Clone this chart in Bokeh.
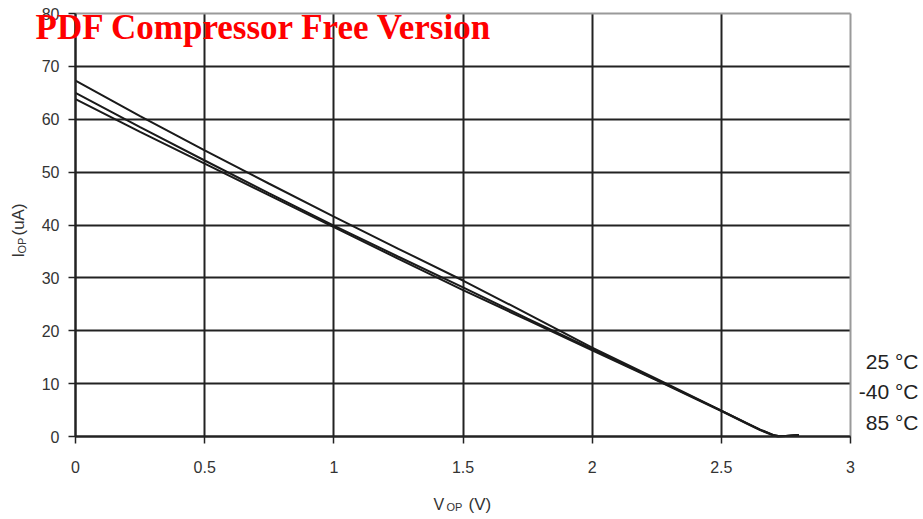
import math
from bokeh.plotting import figure
from bokeh.models import Label, FixedTicker, Range1d, Grid
from bokeh.embed import file_html
from bokeh.resources import INLINE

# ---- data ----
v_op = [0.0, 0.25, 0.5, 0.75, 1.0, 1.25, 1.5, 1.75, 2.0, 2.25, 2.4, 2.5, 2.6, 2.65, 2.7, 2.72, 2.75, 2.8]
i_top = [67.3, 60.6, 54.1, 47.8, 41.6, 35.5, 29.5, 23.2, 16.8, 10.9, 7.3, 4.9, 2.5, 1.3, 0.3, 0.1, 0.1, 0.3]
i_mid = [65.0, 58.5, 52.2, 46.0, 39.9, 34.0, 28.2, 22.3, 16.5, 10.7, 7.2, 4.9, 2.5, 1.3, 0.3, 0.1, 0.1, 0.3]
i_bot = [63.8, 57.6, 51.6, 45.6, 39.6, 33.6, 27.7, 22.0, 16.3, 10.6, 7.1, 4.8, 2.4, 1.2, 0.2, 0.0, 0.1, 0.3]
series = [i_top, i_mid, i_bot]

temp_labels = ["25 \u00b0C", "-40 \u00b0C", "85 \u00b0C"]

x_ticks = [0, 0.5, 1, 1.5, 2, 2.5, 3]
y_ticks = [0, 10, 20, 30, 40, 50, 60, 70, 80]
X_MIN, X_MAX = 0, 3
Y_MIN, Y_MAX = 0, 80

# ---- layout (pixel geometry of the chart area) ----
W, H = 920, 515
FL, FR, FT, FB = 75, 850, 13, 436          # plot-area edges in pixels
XS = (FR - FL) / (X_MAX - X_MIN)          # px per data unit
YS = (FB - FT) / (Y_MAX - Y_MIN)


def dx(px):
    return X_MIN + (px - FL) / XS


def dy(py):
    return Y_MIN + (FB - py) / YS


FONT = "Liberation Sans"
DARK = "#222222"
TXT = "#333333"

p = figure(width=W, height=H, output_backend="svg", toolbar_location=None,
           x_range=Range1d(dx(0), dx(W)), y_range=Range1d(dy(H), dy(0)),
           min_border=0, min_border_left=0, min_border_right=0,
           min_border_top=0, min_border_bottom=0)
p.background_fill_color = "white"
p.border_fill_color = "white"
p.outline_line_color = None

# grids restricted to the chart area
p.xgrid.ticker = FixedTicker(ticks=[t for t in x_ticks if t < X_MAX])
p.ygrid.ticker = FixedTicker(ticks=[t for t in y_ticks if t < Y_MAX])
p.xgrid.cross_bounds = (Y_MIN, Y_MAX)
p.ygrid.cross_bounds = (X_MIN, X_MAX)
for g in (p.xgrid[0], p.ygrid[0]):
    g.grid_line_color = DARK
    g.grid_line_width = 2
# grey frame on the top and right edges
p.add_layout(Grid(dimension=0, ticker=FixedTicker(ticks=[X_MAX]), cross_bounds=(Y_MIN, Y_MAX),
                  grid_line_color="#9a9a9a", grid_line_width=2))
p.add_layout(Grid(dimension=1, ticker=FixedTicker(ticks=[Y_MAX]), cross_bounds=(X_MIN, X_MAX),
                  grid_line_color="#9a9a9a", grid_line_width=2))

for ys in series:
    p.line(v_op, ys, line_color="#1a1a1a", line_width=2)

# axes, pinned to the chart-area edges
p.xaxis.fixed_location = Y_MIN
p.yaxis.fixed_location = X_MIN
p.xaxis.bounds = (X_MIN, X_MAX)
p.yaxis.bounds = (Y_MIN, Y_MAX)
for ax in (p.xaxis[0], p.yaxis[0]):
    ax.axis_line_color = DARK
    ax.axis_line_width = 2
    ax.major_tick_line_color = DARK
    ax.major_tick_line_width = 1.5
    ax.major_tick_out = 7
    ax.major_tick_in = 0
    ax.minor_tick_line_color = None
    ax.major_label_text_font = FONT
    ax.major_label_text_font_size = "16px"
    ax.major_label_text_color = TXT
p.xaxis.ticker = FixedTicker(ticks=x_ticks)
p.yaxis.ticker = FixedTicker(ticks=y_ticks)
p.xaxis.major_label_standoff = 17
p.yaxis.major_label_standoff = 9

# right-side temperature labels
for t, py in zip(temp_labels, [361, 391, 422]):
    p.add_layout(Label(x=dx(918), y=dy(py), text=t, text_align="right", text_baseline="middle",
                       text_font=FONT, text_font_size="21px", text_color="#222222"))

# y axis title: I_OP (uA), rotated
rot = math.pi / 2
p.add_layout(Label(x=dx(18), y=dy(257), text="I", angle=rot, text_align="left",
                   text_baseline="alphabetic", text_font=FONT, text_font_size="16px", text_color=TXT))
p.add_layout(Label(x=dx(21), y=dy(253), text="OP", angle=rot, text_align="left",
                   text_baseline="alphabetic", text_font=FONT, text_font_size="11px", text_color=TXT))
p.add_layout(Label(x=dx(18), y=dy(235), text="(uA)", angle=rot, text_align="left",
                   text_baseline="alphabetic", text_font=FONT, text_font_size="17px", text_color=TXT))

# x axis title: V_OP (V)
p.add_layout(Label(x=dx(433), y=dy(504), text="V", text_align="left",
                   text_baseline="alphabetic", text_font=FONT, text_font_size="16px", text_color=TXT))
p.add_layout(Label(x=dx(446), y=dy(506), text="OP", text_align="left",
                   text_baseline="alphabetic", text_font=FONT, text_font_size="11px", text_color=TXT))
p.add_layout(Label(x=dx(468), y=dy(504), text="(V)", text_align="left",
                   text_baseline="alphabetic", text_font=FONT, text_font_size="17px", text_color=TXT))

# watermark
p.add_layout(Label(x=dx(35), y=dy(27), text="PDF Compressor Free Version",
                   text_align="left", text_baseline="alphabetic", text_font="Liberation Serif",
                   text_font_style="bold", text_font_size="35px", text_color="#ff0000"))

open("out.html", "w").write(file_html(p, INLINE))
